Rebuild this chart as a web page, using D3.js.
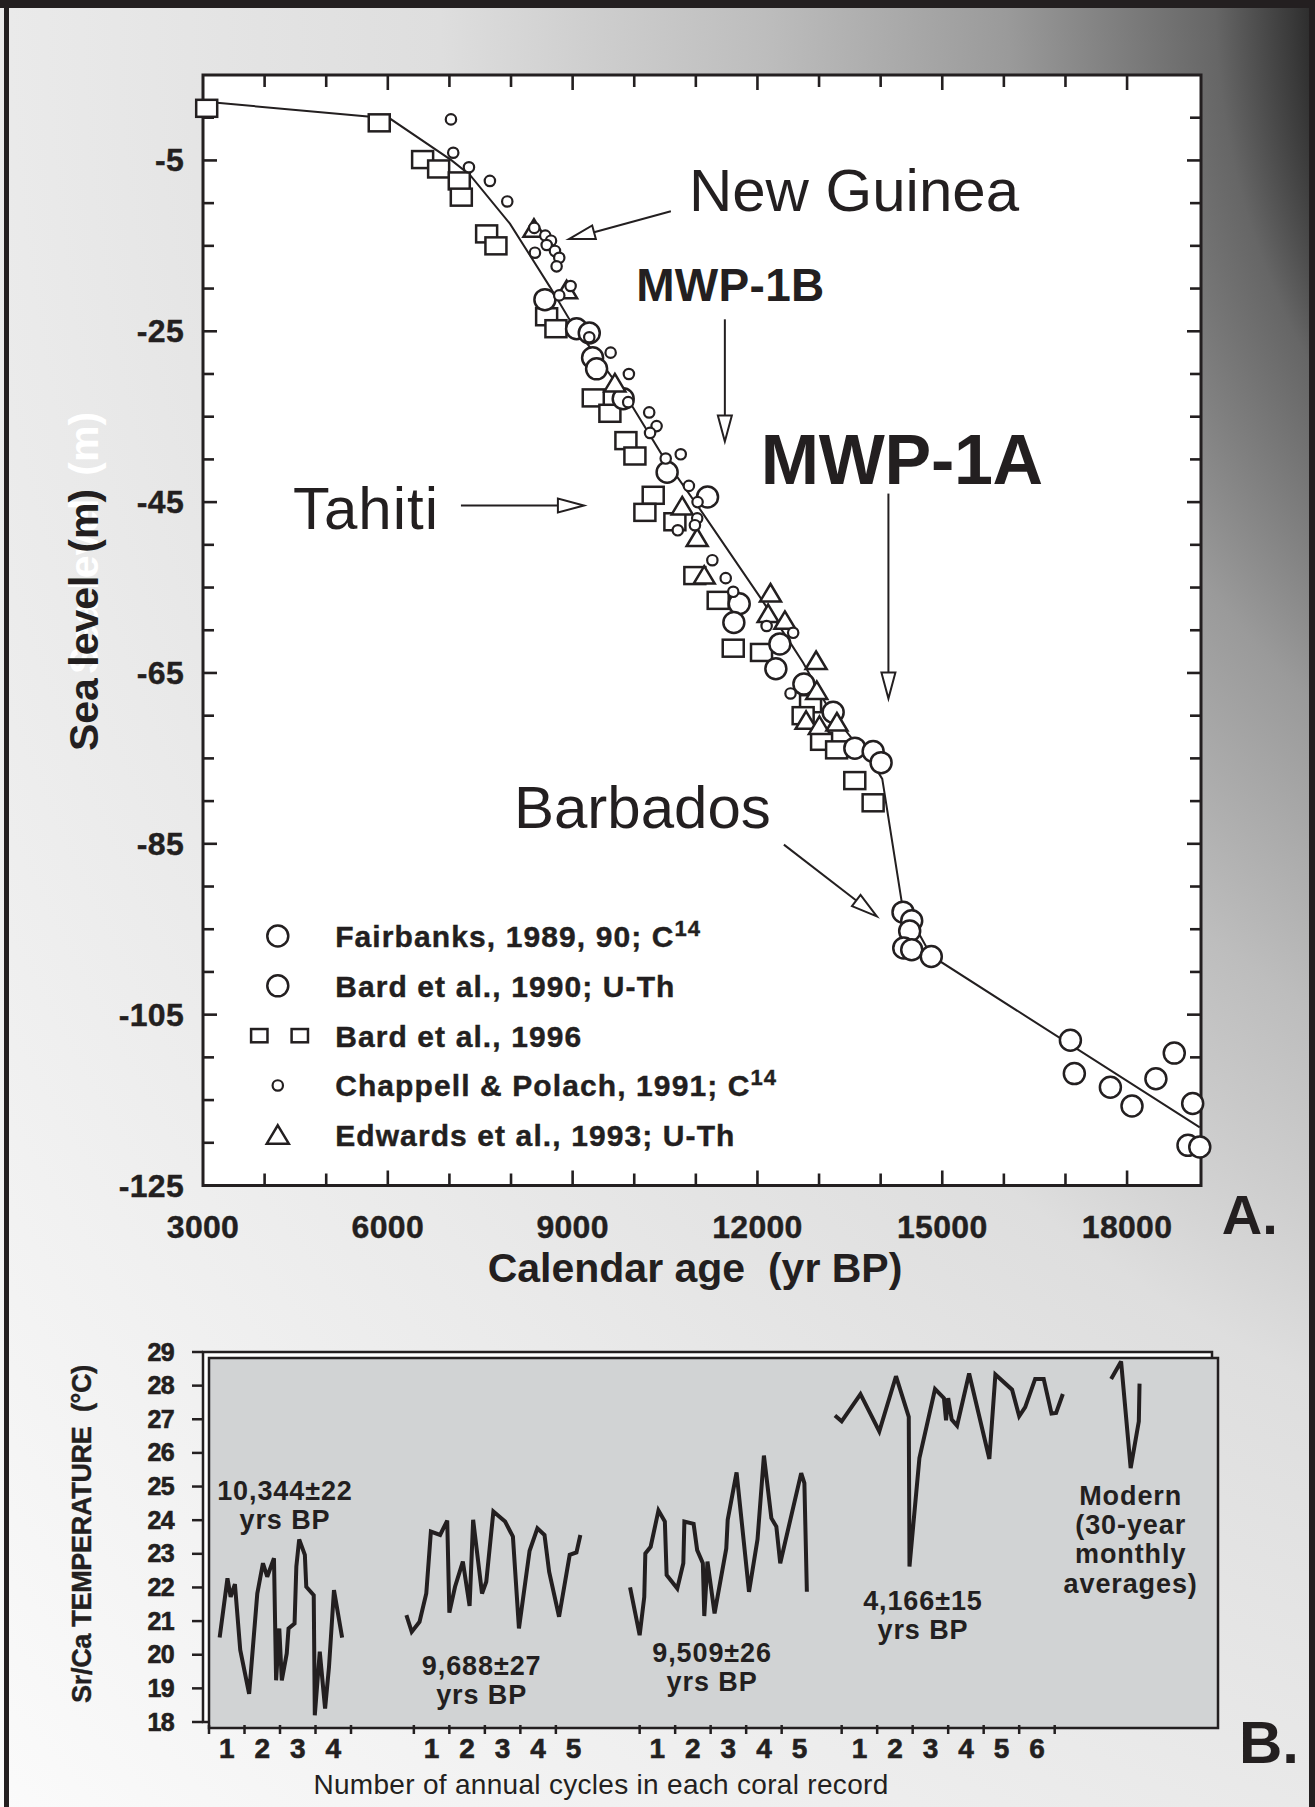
<!DOCTYPE html>
<html>
<head>
<meta charset="utf-8">
<script src="https://cdn.jsdelivr.net/npm/d3@7"></script>
<style>
    body { margin: 0; background: #fff; }
    svg { display: block; font-family: "Liberation Sans", Arial, Helvetica, sans-serif; }
</style>
</head>
<body>
<div id="root"></div>
<script>
// ---------- panel A: sea level vs calendar age  [yr BP, m] ----------
const fitCurve = [[3000, 1.9], [6035, -0.1], [7036, -5.0], [7333, -6.7], [7982, -12.4], [8631, -19.8],
    [8956, -23.7], [9876, -32.7], [10470, -39.7], [11122, -46.4], [12039, -56.1], [12563, -61.8],
    [12742, -63.8], [13166, -69.3], [13547, -72.8], [13865, -75.5], [14026, -77.4], [14344, -91.9],
    [14821, -98.1], [19180, -118.2]]

const fairbanks = [[14363, -93.0], [14504, -94.0], [14471, -95.2], [14375, -97.2], [14504, -97.4],
    [14822, -98.2], [17080, -108.0], [17144, -111.9], [17729, -113.5], [18080, -115.7], [18468, -112.5],
    [18766, -109.5], [19065, -115.4], [18989, -120.3], [19180, -120.5]]

const bard1990 = [[8550, -21.3], [9064, -24.7], [9270, -25.2], [9324, -28.1], [9389, -29.4], [9821, -32.9],
    [10534, -41.5], [11190, -44.4], [11704, -56.9], [11617, -59.1], [12364, -61.6], [12299, -64.5],
    [12754, -66.3], [13229, -69.6], [13581, -73.8], [13878, -74.2], [14007, -75.5]]

const bard1996 = [[3060, 1.1], [5861, -0.6], [6565, -4.9], [6825, -6.0], [7160, -7.4], [7193, -9.3],
    [7604, -13.6], [7755, -15.0], [8578, -23.3], [8729, -24.7], [9335, -32.8], [9605, -34.6],
    [9865, -37.8], [10011, -39.6], [10308, -44.2], [10173, -46.2], [10660, -47.3], [10984, -53.6],
    [11363, -56.5], [11607, -62.1], [12066, -62.6], [12862, -68.6], [12742, -70.0], [13041, -73.0],
    [13285, -74.0], [13580, -77.6], [13878, -80.2]]

const chappell = [[7025, -0.2], [7062, -4.1], [7317, -5.8], [7657, -7.4], [7939, -9.8], [8377, -12.9],
    [8556, -13.8], [8649, -14.4], [8579, -14.9], [8388, -15.8], [8713, -15.6], [8783, -16.4],
    [8740, -17.4], [8967, -19.7], [8783, -20.8], [9270, -25.7], [9617, -27.5], [9913, -30.0],
    [9902, -33.3], [10243, -34.5], [10363, -36.1], [10257, -36.9], [10755, -39.4], [10511, -39.9],
    [10887, -43.1], [11028, -45.0], [11022, -46.9], [10985, -47.7], [10707, -48.3], [11268, -51.8],
    [11485, -53.9], [11607, -55.5], [12149, -59.5], [12580, -60.3], [12537, -67.4]]

const edwards = [[8372, -13.0], [8902, -20.2], [9686, -31.1], [10779, -45.5], [11022, -49.2],
    [11136, -53.6], [12212, -55.7], [12174, -58.1], [12446, -58.9], [12952, -63.6], [12963, -67.1],
    [12790, -70.6], [13006, -71.2], [13290, -70.8]]

const xTicksA = d3.range(4000, 18001, 1000)
const xLabelsA = [3000, 6000, 9000, 12000, 15000, 18000]
const yTicksA = d3.range(-120, 1, 5)
const yLabelsA = [-5, -25, -45, -65, -85, -105, -125]

const legendNames = ["Fairbanks, 1989, 90; C", "Bard et al., 1990; U-Th", "Bard et al., 1996",
    "Chappell & Polach, 1991; C", "Edwards et al., 1993; U-Th"]
const legendSup = ["14", "", "", "14", ""]

// ---------- panel B: Sr/Ca temperature records  [year in record, deg C] ----------
const rec10344 = [[0.30, 20.51], [0.52, 22.27], [0.61, 21.72], [0.73, 22.10], [0.88, 20.14], [1.13, 18.84],
    [1.36, 21.82], [1.52, 22.72], [1.64, 22.32], [1.83, 22.87], [1.89, 19.24], [1.98, 20.78], [2.05, 19.24],
    [2.19, 20.04], [2.24, 20.78], [2.41, 20.93], [2.46, 22.62], [2.54, 23.43], [2.70, 22.97], [2.74, 22.02],
    [2.95, 21.77], [2.98, 18.20], [3.12, 20.09], [3.27, 18.40], [3.38, 19.64], [3.52, 21.92], [3.75, 20.51]]

const rec9688 = [[-0.21, 21.18], [-0.06, 20.68], [0.16, 20.98], [0.35, 21.82], [0.48, 23.66], [0.74, 23.56],
    [0.94, 23.99], [1.0, 21.25], [1.16, 22.02], [1.38, 22.77], [1.57, 21.45], [1.67, 24.01], [1.92, 21.82],
    [2.04, 22.17], [2.24, 24.26], [2.57, 23.96], [2.79, 23.51], [2.96, 20.78], [3.26, 23.09], [3.48, 23.76],
    [3.68, 23.56], [3.81, 22.47], [4.09, 21.13], [4.39, 22.97], [4.58, 23.04], [4.69, 23.56]]

const rec9509 = [[-0.27, 22.0], [0, 20.58], [0.13, 21.72], [0.16, 23.01], [0.31, 23.21], [0.53, 24.29],
    [0.71, 23.96], [0.76, 22.37], [1.06, 21.97], [1.23, 22.72], [1.26, 23.96], [1.52, 23.89], [1.62, 23.11],
    [1.78, 22.72], [1.82, 21.15], [1.91, 22.77], [2.11, 21.23], [2.44, 23.16], [2.48, 24.01], [2.73, 25.42],
    [3.08, 21.87], [3.32, 23.43], [3.50, 25.92], [3.71, 24.06], [3.85, 23.81], [3.96, 22.72], [4.55, 25.40],
    [4.64, 25.10], [4.71, 21.87]]

const rec4166 = [[-0.19, 27.11], [0, 26.94], [0.53, 27.75], [1.06, 26.64], [1.53, 28.28], [1.89, 27.07],
    [1.91, 22.62], [2.19, 25.85], [2.63, 27.90], [2.88, 27.63], [2.94, 26.97], [3.0, 27.63], [3.10, 26.99],
    [3.25, 26.81], [3.59, 28.36], [4.16, 25.82], [4.33, 28.33], [4.80, 27.88], [5.0, 27.09], [5.17, 27.36],
    [5.45, 28.20], [5.69, 28.20], [5.91, 27.17], [6.04, 27.19], [6.23, 27.75]]

const recModern = [[0, 28.20], [0.28, 28.72], [0.55, 25.55], [0.78, 26.94], [0.80, 28.06]]

const records = [rec10344, rec9688, rec9509, rec4166, recModern]
const recordStart = [0, 5.77, 12.13, 17.82, 25.41]     // position on the composite year axis
const recordYears = [4, 5, 5, 6, 0]                    // numbered annual cycles
const recordLastTick = [4, 4, 4, 6, -1]
const recordLabels = [["10,344±22", "yrs BP"], ["9,688±27", "yrs BP"], ["9,509±26", "yrs BP"],
    ["4,166±15", "yrs BP"], ["Modern", "(30-year", "monthly", "averages)"]]
const yTicksB = d3.range(18, 30)

function drawFigure() {
    const w = 1315, h = 1807
    const ink = "#231f20"

    const svg = d3.select("#root").append("svg")
        .attr("width", w)
        .attr("height", h)

    // page background
    const defs = svg.append("defs")
    const bg = defs.append("radialGradient")
        .attr("id", "bg")
        .attr("gradientUnits", "userSpaceOnUse")
        .attr("cx", 1979).attr("cy", -5).attr("r", 2700)
        .attr("fx", 1979).attr("fy", -5)
    const stops = [[0, "#111"], [0.246, "#2a2a2a"], [0.255, "#3a3a3a"], [0.283, "#666"], [0.36, "#9a9a9a"],
        [0.45, "#bdbdbd"], [0.51, "#cdcdcd"], [0.57, "#dedede"], [0.73, "#eaeaea"], [1, "#fbfbfb"]]
    bg.selectAll("stop").data(stops).enter().append("stop")
        .attr("offset", d => d[0])
        .attr("stop-color", d => d[1])

    svg.append("rect").attr("width", w).attr("height", h).attr("fill", "url(#bg)")
    svg.append("rect").attr("x", 0).attr("y", 0).attr("width", w).attr("height", 8).attr("fill", ink)
    svg.append("rect").attr("x", 4).attr("y", 0).attr("width", 5).attr("height", h).attr("fill", ink)
    svg.append("rect").attr("x", 1309).attr("y", 0).attr("width", 6).attr("height", h).attr("fill", ink)

    //==================== PANEL A ====================
    const xA = d3.scaleLinear().domain([3000, 19200]).range([203, 1201])
    const yA = d3.scaleLinear().domain([-125, 5]).range([1185.5, 75])

    const gA = svg.append("g")
    gA.append("rect")
        .attr("x", xA(3000)).attr("y", yA(5))
        .attr("width", xA(19200) - xA(3000)).attr("height", yA(-125) - yA(5))
        .attr("fill", "white").attr("stroke", ink).attr("stroke-width", 3)

    // ticks, all pointing inside
    const majorX = v => xLabelsA.includes(v)
    const majorY = v => yLabelsA.includes(v)
    gA.selectAll("line.xtb").data(xTicksA).enter().append("line")
        .attr("x1", d => xA(d)).attr("x2", d => xA(d))
        .attr("y1", yA(-125)).attr("y2", d => yA(-125) - (majorX(d) ? 15 : 12))
        .attr("stroke", ink).attr("stroke-width", 2.6)
    gA.selectAll("line.xtt").data(xTicksA).enter().append("line")
        .attr("x1", d => xA(d)).attr("x2", d => xA(d))
        .attr("y1", yA(5)).attr("y2", d => yA(5) + (majorX(d) ? 15 : 12))
        .attr("stroke", ink).attr("stroke-width", 2.6)
    gA.selectAll("line.ytl").data(yTicksA).enter().append("line")
        .attr("x1", xA(3000)).attr("x2", d => xA(3000) + (majorY(d) ? 14 : 11))
        .attr("y1", d => yA(d)).attr("y2", d => yA(d))
        .attr("stroke", ink).attr("stroke-width", 2.6)
    gA.selectAll("line.ytr").data(yTicksA).enter().append("line")
        .attr("x1", xA(19200)).attr("x2", d => xA(19200) - (majorY(d) ? 14 : 11))
        .attr("y1", d => yA(d)).attr("y2", d => yA(d))
        .attr("stroke", ink).attr("stroke-width", 2.6)

    gA.selectAll("text.xl").data(xLabelsA).enter().append("text")
        .attr("x", d => xA(d)).attr("y", yA(-125) + 52)
        .attr("text-anchor", "middle").attr("font-size", 32).attr("font-weight", "bold")
        .attr("letter-spacing", 0.3).attr("fill", ink).attr("stroke", ink).attr("stroke-width", 0.4)
        .text(d => d)
    gA.selectAll("text.yl").data(yLabelsA).enter().append("text")
        .attr("x", xA(3000) - 19).attr("y", d => yA(d) + 11)
        .attr("text-anchor", "end").attr("font-size", 32).attr("font-weight", "bold")
        .attr("letter-spacing", 0.3).attr("fill", ink).attr("stroke", ink).attr("stroke-width", 0.4)
        .text(d => d)

    // axis titles
    svg.append("text")
        .attr("x", 695).attr("y", 1282)
        .attr("text-anchor", "middle").attr("font-size", 41).attr("font-weight", "bold")
        .attr("fill", ink).attr("xml:space", "preserve")
        .text("Calendar age  (yr BP)")
    svg.append("text")
        .attr("transform", "translate(98,543) rotate(-90)")
        .attr("text-anchor", "middle").attr("font-size", 41).attr("font-weight", "bold")
        .attr("fill", "white").attr("xml:space", "preserve")
        .text("Sea level  (m)")
    svg.append("text")
        .attr("transform", "translate(98,620) rotate(-90)")
        .attr("text-anchor", "middle").attr("font-size", 41).attr("font-weight", "bold")
        .attr("fill", ink).attr("xml:space", "preserve")
        .text("Sea level  (m)")

    // fitted sea-level curve
    gA.append("path")
        .datum(fitCurve)
        .attr("d", d3.line().x(d => xA(d[0])).y(d => yA(d[1])))
        .attr("fill", "none").attr("stroke", ink).attr("stroke-width", 2)

    function shape(g, type, x, y, k) {
        k = k || 1
        let s
        if (type === "circle") s = g.append("circle").attr("cx", x).attr("cy", y).attr("r", 10.5 * k)
        if (type === "dot") s = g.append("circle").attr("cx", x).attr("cy", y).attr("r", 5.2)
        if (type === "square") s = g.append("rect")
            .attr("x", x - 10.5 * k).attr("y", y - 8.5 * k).attr("width", 21 * k).attr("height", 17 * k)
        if (type === "triangle") s = g.append("polygon")
            .attr("points", [[x, y - 9.5 * k], [x + 10.5 * k, y + 8 * k], [x - 10.5 * k, y + 8 * k]].join(" "))
        return s.attr("fill", "white").attr("stroke", ink).attr("stroke-width", type === "dot" ? 2.2 : 2.5)
    }

    const series = [[bard1996, "square"], [bard1990, "circle"], [fairbanks, "circle"],
        [edwards, "triangle"], [chappell, "dot"]]
    series.forEach(([data, type]) => {
        gA.append("g").selectAll("g").data(data).enter().append("g")
            .each(function (d) { shape(d3.select(this), type, xA(d[0]), yA(d[1])) })
    })

    // annotations
    function arrow(x1, y1, x2, y2) {
        const a = Math.atan2(y2 - y1, x2 - x1), len = 26, hw = 7
        const bx = x2 - len * Math.cos(a), by = y2 - len * Math.sin(a)
        gA.append("line").attr("x1", x1).attr("y1", y1).attr("x2", bx).attr("y2", by)
            .attr("stroke", ink).attr("stroke-width", 2)
        gA.append("polygon")
            .attr("points", [[x2, y2], [bx - hw * Math.sin(a), by + hw * Math.cos(a)],
                [bx + hw * Math.sin(a), by - hw * Math.cos(a)]].join(" "))
            .attr("fill", "white").attr("stroke", ink).attr("stroke-width", 2)
    }
    const note = (t, x, y, size, weight, anchor) => gA.append("text")
        .attr("x", xA(x)).attr("y", yA(y)).attr("font-size", size).attr("font-weight", weight)
        .attr("text-anchor", anchor || "start").attr("fill", ink).text(t)

    note("New Guinea", 10887, -10.95, 60, "normal")
    arrow(xA(10595), yA(-10.95), xA(8940), yA(-14.2))
    note("MWP-1B", 11561, -21.4, 46, "bold", "middle").attr("letter-spacing", 0.3)
    arrow(xA(11471), yA(-23.6), xA(11471), yA(-37.9))
    note("MWP-1A", 14344, -42.9, 70, "bold", "middle").attr("letter-spacing", -0.3)
    arrow(xA(14126), yA(-44.0), xA(14126), yA(-68.0))
    note("Tahiti", 4461, -48.1, 60, "normal").attr("letter-spacing", 1)
    arrow(xA(7187), yA(-45.4), xA(9183), yA(-45.4))
    note("Barbados", 8047, -83.1, 60, "normal")
    arrow(xA(12429), yA(-85.1), xA(13938), yA(-93.5))
    note("A.", 19537, -130.7, 56, "bold")

    // legend
    const legX = xA(4214), legY = yA(-95.8), gap = 49.8, legTextX = xA(5145)
    const legShapes = ["circle", "circle", "square", "dot", "triangle"]
    const legend = gA.append("g")
    legShapes.forEach((type, i) => {
        const y = legY + i * gap
        if (type === "square") {
            shape(legend, type, legX - 18.5, y, 0.78)
            shape(legend, type, legX + 22, y, 0.78)
        } else shape(legend, type, legX, y, type === "triangle" ? 1.05 : 1)
        const t = legend.append("text")
            .attr("x", legTextX).attr("y", y + 11)
            .attr("font-size", 30).attr("font-weight", "bold").attr("letter-spacing", 1.1)
            .attr("fill", ink).attr("stroke", ink).attr("stroke-width", 0.4)
            .text(legendNames[i])
        if (legendSup[i]) t.append("tspan").attr("dy", -11).attr("font-size", 22).text(legendSup[i])
    })

    //==================== PANEL B ====================
    const xB = d3.scaleLinear().domain([0, 28.42]).range([209, 1218])
    const yB = d3.scaleLinear().domain([18, 29]).range([1722, 1352])
    const gB = svg.append("g")

    gB.append("rect")
        .attr("x", xB(0) - 6).attr("y", yB(29))
        .attr("width", xB(28.42) - xB(0)).attr("height", yB(18) - yB(29))
        .attr("fill", "white").attr("stroke", ink).attr("stroke-width", 2.5)
    gB.append("rect")
        .attr("x", xB(0)).attr("y", yB(29) + 6)
        .attr("width", xB(28.42) - xB(0)).attr("height", yB(18) - yB(29))
        .attr("fill", "#d1d3d4").attr("stroke", ink).attr("stroke-width", 2.5)

    gB.selectAll("line.yt").data(yTicksB).enter().append("line")
        .attr("x1", xB(0) - 6).attr("x2", xB(0) - 17)
        .attr("y1", d => yB(d)).attr("y2", d => yB(d))
        .attr("stroke", ink).attr("stroke-width", 2.5)
    gB.selectAll("text.yl").data(yTicksB).enter().append("text")
        .attr("x", xB(0) - 35).attr("y", d => yB(d) + 8.5)
        .attr("text-anchor", "end").attr("font-size", 25).attr("font-weight", "bold")
        .attr("letter-spacing", -0.6).attr("fill", ink).attr("stroke", ink).attr("stroke-width", 0.6)
        .text(d => d)

    const base = yB(18) + 6
    records.forEach((rec, i) => {
        const x0 = recordStart[i]
        gB.selectAll(null).data(d3.range(0, recordLastTick[i] + 1)).enter().append("line")
            .attr("x1", d => xB(x0 + d)).attr("x2", d => xB(x0 + d))
            .attr("y1", base - 3).attr("y2", base + 6)
            .attr("stroke", ink).attr("stroke-width", 2.5)
        gB.selectAll(null).data(d3.range(1, recordYears[i] + 1)).enter().append("text")
            .attr("x", d => xB(x0 + d - 0.5)).attr("y", base + 30)
            .attr("text-anchor", "middle").attr("font-size", 28).attr("font-weight", "bold")
            .attr("fill", ink).attr("stroke", ink).attr("stroke-width", 0.6)
            .text(d => d)
        gB.append("path")
            .datum(rec)
            .attr("d", d3.line().x(d => xB(x0 + d[0])).y(d => yB(d[1])))
            .attr("fill", "none").attr("stroke", ink).attr("stroke-width", 4)
            .attr("stroke-linejoin", "miter").attr("stroke-miterlimit", 3)
    })

    // record labels, anchored in axis units
    const labelAt = [[2.14, 24.61], [7.68, 19.41], [14.17, 19.79], [20.11, 21.33], [25.96, 24.46]]
    recordLabels.forEach((lines, i) => {
        gB.append("text")
            .attr("text-anchor", "middle").attr("font-size", 27).attr("font-weight", "bold")
            .attr("letter-spacing", 0.9).attr("fill", ink)
            .selectAll("tspan").data(lines).enter().append("tspan")
            .attr("x", xB(labelAt[i][0]))
            .attr("y", (d, j) => yB(labelAt[i][1]) + j * 29.3)
            .text(d => d)
    })

    svg.append("text")
        .attr("transform", "translate(91,1534) rotate(-90)")
        .attr("text-anchor", "middle").attr("font-size", 27).attr("font-weight", "bold")
        .attr("letter-spacing", -0.3).attr("fill", ink).attr("stroke", ink).attr("stroke-width", 0.4)
        .attr("xml:space", "preserve")
        .text("Sr/Ca TEMPERATURE  (°C)")
    svg.append("text")
        .attr("x", 601).attr("y", 1794)
        .attr("text-anchor", "middle").attr("font-size", 28).attr("letter-spacing", 0.3)
        .attr("fill", ink)
        .text("Number of annual cycles in each coral record")
    gB.append("text")
        .attr("x", xB(29.01)).attr("y", yB(16.78))
        .attr("font-size", 60).attr("font-weight", "bold").attr("fill", ink)
        .text("B.")
}

drawFigure()
</script>
</body>
</html>
